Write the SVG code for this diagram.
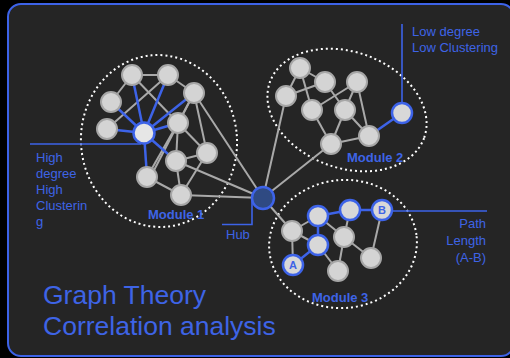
<svg xmlns="http://www.w3.org/2000/svg" width="510" height="358" viewBox="0 0 510 358">
<style>
.e{stroke:#a9a9a9;stroke-width:2;fill:none}
.eb{stroke:#3d63e8;stroke-width:2.5;fill:none}
.ptr{stroke:#3d63e8;stroke-width:1.6;fill:none}
.n{fill:#d4d4d4;stroke:#a6a6a6;stroke-width:2}
.nb{fill:#d8d8d8;stroke:#3d63e8;stroke-width:2.5}
.mod{fill:none;stroke:#ffffff;stroke-width:2;stroke-dasharray:2 3}
.lbl{font-family:"Liberation Sans",Arial,sans-serif;font-size:13px;fill:#3e64e6}
.mlbl{font-family:"Liberation Sans",Arial,sans-serif;font-size:13px;font-weight:bold;fill:#3e64e6}
.big{font-family:"Liberation Sans",Arial,sans-serif;font-size:26.5px;fill:#3e64e6}
.ab{font-family:"Liberation Sans",Arial,sans-serif;font-size:11px;font-weight:bold;fill:#3e64e6;text-anchor:middle}
</style>
<rect x="0" y="0" width="510" height="358" fill="#000000"/>
<rect x="8" y="4" width="506" height="352" rx="13" fill="#252525" stroke="#3d63e8" stroke-width="2"/>

<g id="modules">
<ellipse class="mod" cx="159" cy="141" rx="78" ry="86" transform="rotate(-5 159 141)"/>
<ellipse class="mod" cx="347" cy="110" rx="82" ry="58" transform="rotate(20 347 110)"/>
<ellipse class="mod" cx="343" cy="244" rx="74" ry="64" transform="rotate(-6 343 244)"/>
</g>

<g id="connectors">
<!-- module 1 gray -->
<line class="e" x1="132" y1="75" x2="168" y2="75"/>
<line class="e" x1="132" y1="75" x2="111" y2="102"/>
<line class="e" x1="132" y1="75" x2="178" y2="123"/>
<line class="e" x1="168" y1="75" x2="107" y2="129"/>
<line class="e" x1="168" y1="75" x2="194" y2="93"/>
<line class="e" x1="194" y1="93" x2="178" y2="123"/>
<line class="e" x1="194" y1="93" x2="207" y2="153"/>
<line class="e" x1="194" y1="93" x2="263" y2="198"/>
<line class="e" x1="194" y1="93" x2="150" y2="178"/>
<line class="e" x1="178" y1="123" x2="176" y2="161"/>
<line class="e" x1="178" y1="123" x2="207" y2="153"/>
<line class="e" x1="178" y1="123" x2="147" y2="177"/>
<line class="e" x1="176" y1="161" x2="207" y2="153"/>
<line class="e" x1="176" y1="161" x2="181" y2="195"/>
<line class="e" x1="176" y1="161" x2="263" y2="198"/>
<line class="e" x1="207" y1="153" x2="181" y2="195"/>
<line class="e" x1="147" y1="177" x2="181" y2="195"/>
<line class="e" x1="181" y1="195" x2="263" y2="198"/>
<!-- module 1 blue -->
<line class="eb" x1="144" y1="133" x2="132" y2="75"/>
<line class="eb" x1="144" y1="133" x2="168" y2="75"/>
<line class="eb" x1="144" y1="133" x2="194" y2="93"/>
<line class="eb" x1="144" y1="133" x2="111" y2="102"/>
<line class="eb" x1="144" y1="133" x2="107" y2="129"/>
<line class="eb" x1="144" y1="133" x2="178" y2="123"/>
<line class="eb" x1="144" y1="133" x2="176" y2="161"/>
<line class="eb" x1="144" y1="133" x2="147" y2="177"/>
<!-- module 2 -->
<line class="e" x1="300" y1="68" x2="325" y2="82"/>
<line class="e" x1="300" y1="68" x2="286" y2="96"/>
<line class="e" x1="300" y1="68" x2="312" y2="110"/>
<line class="e" x1="286" y1="96" x2="325" y2="82"/>
<line class="e" x1="325" y1="82" x2="345" y2="110"/>
<line class="e" x1="312" y1="110" x2="357" y2="82"/>
<line class="e" x1="357" y1="82" x2="345" y2="110"/>
<line class="e" x1="357" y1="82" x2="369" y2="136"/>
<line class="e" x1="312" y1="110" x2="331" y2="144"/>
<line class="e" x1="345" y1="110" x2="331" y2="144"/>
<line class="e" x1="345" y1="110" x2="369" y2="136"/>
<line class="e" x1="331" y1="144" x2="369" y2="136"/>
<line class="e" x1="286" y1="96" x2="263" y2="198"/>
<line class="e" x1="331" y1="144" x2="263" y2="198"/>
<line class="eb" x1="369" y1="136" x2="402" y2="113"/>
<!-- module 3 -->
<line class="e" x1="263" y1="198" x2="292" y2="231"/>
<line class="e" x1="292" y1="231" x2="318" y2="216"/>
<line class="e" x1="292" y1="231" x2="318" y2="245"/>
<line class="e" x1="292" y1="231" x2="293" y2="265"/>
<line class="e" x1="318" y1="216" x2="344" y2="237"/>
<line class="e" x1="350" y1="210" x2="344" y2="237"/>
<line class="e" x1="344" y1="237" x2="338" y2="271"/>
<line class="e" x1="344" y1="237" x2="371" y2="258"/>
<line class="e" x1="318" y1="245" x2="338" y2="271"/>
<line class="e" x1="382" y1="210" x2="371" y2="258"/>
<line class="eb" x1="318" y1="216" x2="350" y2="210"/>
<line class="eb" x1="350" y1="210" x2="382" y2="210"/>
<line class="eb" x1="318" y1="216" x2="318" y2="245"/>
<line class="eb" x1="318" y1="245" x2="293" y2="265"/>
<!-- label pointers -->
<polyline class="ptr" points="30,144 141,144"/>
<polyline class="ptr" points="402,24 402,103"/>
<polyline class="ptr" points="252,200 252,224.5 222,224.5"/>
<polyline class="ptr" points="390,211 487,211"/>
</g>

<g id="module1-nodes">
<circle id="n1" class="n" cx="132" cy="75" r="10"/>
<circle id="n2" class="n" cx="168" cy="75" r="10"/>
<circle id="n3" class="n" cx="194" cy="93" r="10"/>
<circle id="n4" class="n" cx="111" cy="102" r="10"/>
<circle id="n5" class="n" cx="107" cy="129" r="10"/>
<circle id="n6" class="n" cx="178" cy="123" r="10"/>
<circle id="n7" class="n" cx="207" cy="153" r="10"/>
<circle id="n8" class="n" cx="176" cy="161" r="10"/>
<circle id="n9" class="n" cx="147" cy="177" r="10"/>
<circle id="n10" class="n" cx="181" cy="195" r="10"/>
<circle id="high-degree" cx="144" cy="133" r="10.5" fill="#e6e6e6" stroke="#3d63e8" stroke-width="2.5"/>
</g>

<g id="hub">
<circle cx="263" cy="198" r="11" fill="#2f4a82" stroke="#3d63e8" stroke-width="2.5"/>
</g>

<g id="module2-nodes">
<circle id="m1" class="n" cx="300" cy="68" r="10"/>
<circle id="m2" class="n" cx="325" cy="82" r="10"/>
<circle id="m3" class="n" cx="357" cy="82" r="10"/>
<circle id="m4" class="n" cx="286" cy="96" r="10"/>
<circle id="m5" class="n" cx="312" cy="110" r="10"/>
<circle id="m6" class="n" cx="345" cy="110" r="10"/>
<circle id="m7" class="n" cx="331" cy="144" r="10"/>
<circle id="m8" class="n" cx="369" cy="136" r="10"/>
<circle id="low-degree" class="nb" cx="402" cy="113" r="10"/>
</g>

<g id="module3-nodes">
<circle id="p1" class="n" cx="292" cy="231" r="10"/>
<circle id="p2" class="nb" cx="318" cy="216" r="10"/>
<circle id="p3" class="nb" cx="350" cy="210" r="10"/>
<circle id="p4" class="n" cx="344" cy="237" r="10"/>
<circle id="p5" class="nb" cx="318" cy="245" r="10"/>
<circle id="p6" class="n" cx="338" cy="271" r="10"/>
<circle id="p7" class="n" cx="371" cy="258" r="10"/>
<g id="nodeA"><circle class="nb" cx="293" cy="265" r="10"/><text class="ab" x="293" y="269">A</text></g>
<g id="nodeB"><circle class="nb" cx="382" cy="210" r="10"/><text class="ab" x="382" y="214">B</text></g>
</g>

<g id="labels">
<text class="mlbl" x="148" y="219">Module 1</text>
<text class="mlbl" x="347" y="162">Module 2</text>
<text class="mlbl" x="312" y="302">Module 3</text>
<text class="lbl" x="36" y="162">High</text>
<text class="lbl" x="36" y="178">degree</text>
<text class="lbl" x="36" y="194">High</text>
<text class="lbl" x="36" y="210">Clusterin</text>
<text class="lbl" x="36" y="226">g</text>
<text class="lbl" x="226" y="239">Hub</text>
<text class="lbl" x="412" y="36">Low degree</text>
<text class="lbl" x="412" y="52">Low Clustering</text>
<text class="lbl" x="486" y="228" text-anchor="end">Path</text>
<text class="lbl" x="486" y="245" text-anchor="end">Length</text>
<text class="lbl" x="486" y="262" text-anchor="end">(A-B)</text>
<text class="big" x="43" y="304">Graph Theory</text>
<text class="big" x="43" y="335">Correlation analysis</text>
</g>
</svg>
